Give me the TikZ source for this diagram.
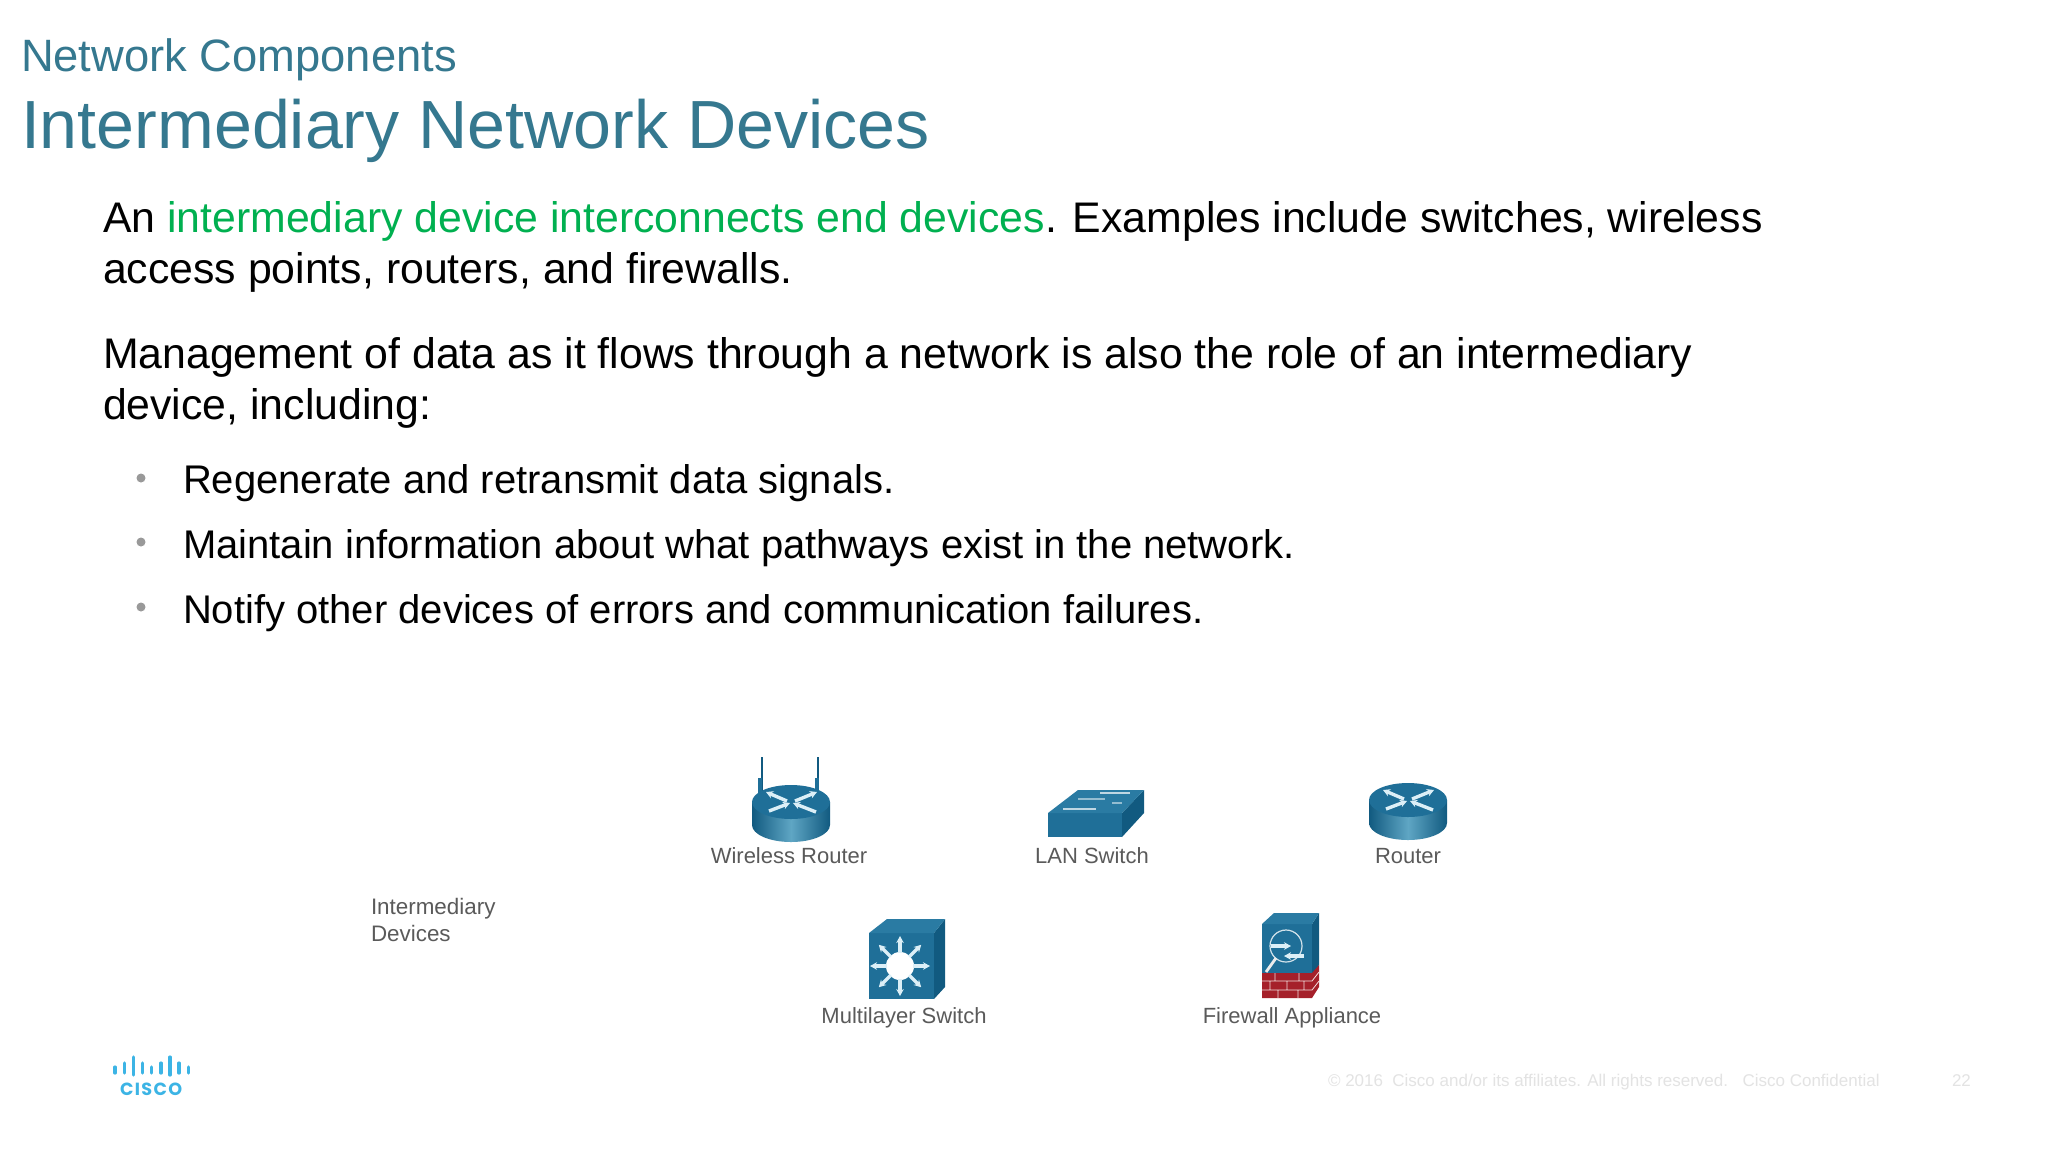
\documentclass[tikz,border=0pt]{standalone}
\usepackage{fontspec}
\setmainfont{Liberation Sans}
\newfontfamily\logofont[LetterSpace=8]{Poppins}
\usetikzlibrary{arrows.meta}
\definecolor{titleblue}{HTML}{35788F}
\definecolor{accentgreen}{HTML}{00B050}
\definecolor{devblue}{HTML}{1F6F98}
\definecolor{devdark}{HTML}{115A80}
\definecolor{devlight}{HTML}{5FA6C4}
\definecolor{devtop}{HTML}{2A7BA3}
\definecolor{brickred}{HTML}{A5202A}
\definecolor{logoblue}{HTML}{3CB4E5}
\definecolor{labelgrey}{HTML}{5A5A5A}
\definecolor{footgrey}{HTML}{E3E3E3}
\definecolor{arrowpale}{HTML}{DCEFF7}
\tikzset{
  x=0.5pt,y=-0.5pt,
  txt/.style={anchor=base west,inner sep=0pt,outer sep=0pt},
  subtitle/.style={txt,text=titleblue,font=\fontsize{22.67}{26}\selectfont},
  maintitle/.style={txt,text=titleblue,font=\fontsize{34.08}{38}\selectfont},
  body/.style={txt,text=black,font=\fontsize{21.4}{25}\selectfont},
  bullettext/.style={txt,text=black,font=\fontsize{20}{24}\selectfont},
  bulletdot/.style={circle,fill=gray!80,inner sep=0pt,minimum size=4.5pt},
  devlabel/.style={anchor=base,inner sep=0pt,text=labelgrey,font=\fontsize{11}{13}\selectfont},
  sidelabel/.style={txt,text=labelgrey,font=\fontsize{11.2}{13}\selectfont},
  foot/.style={txt,text=footgrey,font=\fontsize{8.5}{10}\selectfont},
  wh/.style={arrowpale,line width=1.7pt,-{Stealth[length=3.5pt,width=3.8pt]}},
  wl/.style={white,line width=0.9pt},
  logobar/.style={logoblue,line width=1.6pt,line cap=round},
  routericon/.pic={
    \path[left color=devdark,right color=devdark,middle color=devlight]
      (-39,0) -- (-39,23) .. controls (-39,32.4) and (-21.5,40) .. (0,40)
      .. controls (21.5,40) and (39,32.4) .. (39,23) -- (39,0) -- cycle;
    \fill[devblue] (0,0) ellipse [x radius=39,y radius=17];
    \draw[wh] (-4,-1) -- (-25,-10);
    \draw[wh] (-22,9) -- (-1,1);
    \draw[wh] (4,-1) -- (26,-10);
    \draw[wh] (25,10) -- (2,1);
  }
}
\begin{document}
\begin{tikzpicture}
\useasboundingbox[fill=white] (0,0) rectangle (2048,1152);

\node[subtitle] (sub) at (21,71) {Network Components};
\node[maintitle] (ttl) at (21,148) {Intermediary Network Devices};

\node[body] (p1) at (103,232) {An \textcolor{accentgreen}{intermediary device interconnects end devices}. Examples include switches, wireless};
\node[body] (p2) at (103,283) {access points, routers, and firewalls.};
\node[body] (p3) at (103,368) {Management of data as it flows through a network is also the role of an intermediary};
\node[body] (p4) at (103,419) {device, including:};

\node[bulletdot] (b1) at (141,478) {};
\node[bulletdot] (b2) at (141,542) {};
\node[bulletdot] (b3) at (141,607) {};
\node[bullettext] (t1) at (183,493) {Regenerate and retransmit data signals.};
\node[bullettext] (t2) at (183,558) {Maintain information about what pathways exist in the network.};
\node[bullettext] (t3) at (183,623) {Notify other devices of errors and communication failures.};

% wireless router
\draw[devdark,line width=1pt] (762,757) -- (762,795);
\draw[devdark,line width=1pt] (818,757) -- (818,795);
\draw[devblue,line width=2.4pt] (760,778) -- (760,795);
\draw[devblue,line width=2.4pt] (817,778) -- (817,795);
\pic (wr) at (791,802) {routericon};
\node[devlabel] (lwr) at (789,863) {Wireless Router};

% LAN switch
\fill[devblue] (1048,813) -- (1122,813) -- (1122,837) -- (1048,837) -- cycle;
\fill[devdark] (1122,813) -- (1144,790) -- (1144,813) -- (1122,837) -- cycle;
\fill[devtop] (1048,813) -- (1078,790) -- (1144,790) -- (1122,813) -- cycle;
\draw[wl,opacity=.7] (1063,809) -- (1096,809);
\draw[wl,opacity=.7] (1100,793) -- (1130,793);
\draw[wl,opacity=.5] (1078,799) -- (1105,799) (1112,803) -- (1122,803);
\node[devlabel] (lls) at (1092,863) {LAN Switch};

% router
\pic (rt) at (1408,800) {routericon};
\node[devlabel] (lrt) at (1408,863) {Router};

% multilayer switch
\fill[devblue] (869,933) rectangle (934,999);
\fill[devdark] (934,933) -- (945,919) -- (945,987) -- (934,999) -- cycle;
\fill[devtop] (869,933) -- (887,919) -- (945,919) -- (934,933) -- cycle;
\fill[white] (900,966) circle [radius=14];
\foreach \a in {0,45,...,315}
  \draw[wh] (900,966) ++(\a:13) -- ++(\a:17);
\node[devlabel] (lms) at (904,1023) {Multilayer Switch};

% firewall appliance
\fill[devblue] (1262,924) rectangle (1312,975);
\fill[devdark] (1312,924) -- (1319,913) -- (1319,965) -- (1312,975) -- cycle;
\fill[devtop] (1262,924) -- (1274,913) -- (1319,913) -- (1312,924) -- cycle;
\draw[white,line width=0.6pt,opacity=.8] (1286,946) circle [radius=16];
\draw[white!85!gray,line width=1.4pt] (1276,958) -- (1266,972);
\draw[wh] (1271,946) -- (1291,946);
\draw[wh] (1304,956) -- (1284,956);
\fill[brickred] (1262,973) -- (1312,973) -- (1319,965) -- (1319,987) -- (1312,998) -- (1262,998) -- cycle;
\draw[white!85!brickred,line width=0.4pt]
  (1262,981) -- (1312,981) -- (1319,972) (1262,990) -- (1312,990) -- (1319,981)
  (1275,973) -- (1275,981) (1299,973) -- (1299,981) (1287,981) -- (1287,990)
  (1270,981) -- (1270,990) (1304,981) -- (1304,990) (1278,990) -- (1278,998) (1298,990) -- (1298,998);
\node[devlabel] (lfw) at (1292,1023) {Firewall Appliance};

\node[sidelabel] (id1) at (371,914) {Intermediary};
\node[sidelabel] (id2) at (371,941) {Devices};

% logo
\draw[logobar] (115,1067) -- (115,1073);
\draw[logobar] (124.3,1063) -- (124.3,1073);
\draw[logobar] (133.3,1057) -- (133.3,1075);
\draw[logobar] (142.7,1063) -- (142.7,1073);
\draw[logobar] (151.7,1067) -- (151.7,1073);
\draw[logobar] (161,1063) -- (161,1073);
\draw[logobar] (170,1057) -- (170,1075);
\draw[logobar] (179,1063) -- (179,1073);
\draw[logobar] (188.3,1067) -- (188.3,1073);
\node[txt,text=logoblue,font=\fontsize{8.8}{10}\logofont\bfseries] (lg) at (120,1095) {CISCO};

\node[foot] (ft) at (1328,1086) {© 2016\hspace{0.55em}Cisco and/or its affiliates. All rights reserved.\hspace{0.85em}Cisco Confidential};
\node[foot] (pg) at (1952,1086) {22};
\end{tikzpicture}
\end{document}
